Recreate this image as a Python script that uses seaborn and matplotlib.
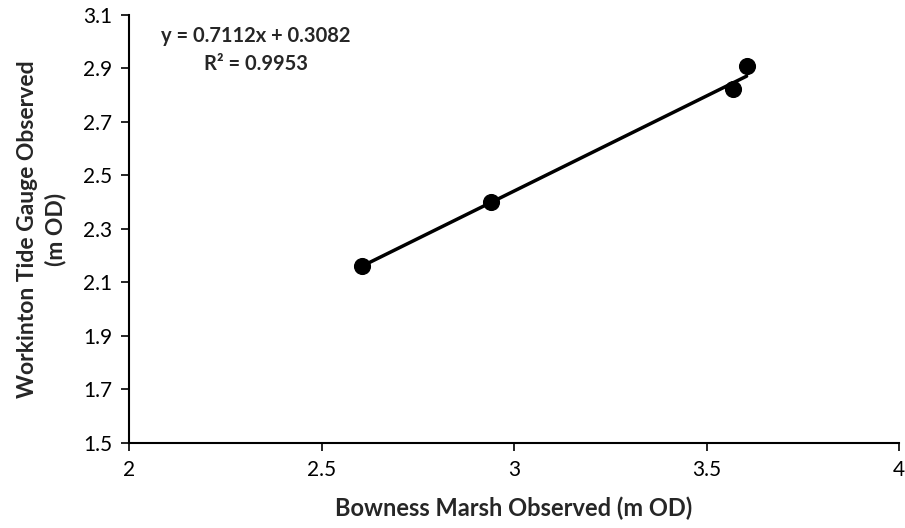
import matplotlib
matplotlib.use("Agg")
import matplotlib.pyplot as plt
import seaborn as sns
import numpy as np
import pandas as pd

# observed levels (m OD)
bowness = [2.604, 2.94, 3.569, 3.604]
workinton = [2.163, 2.402, 2.823, 2.908]
slope = 0.7112
intercept = 0.3082
r2 = 0.9953

x_ticks = [2, 2.5, 3, 3.5, 4]
y_ticks = [1.5, 1.7, 1.9, 2.1, 2.3, 2.5, 2.7, 2.9, 3.1]


def main():
    sns.set_style("ticks")
    plt.rcParams["font.family"] = ["Lato", "DejaVu Sans"]

    df = pd.DataFrame({"x": bowness, "y": workinton})
    xs = np.array([min(bowness), max(bowness)])
    fit = pd.DataFrame({"x": xs, "y": slope * xs + intercept})

    fig = plt.figure(figsize=(9.05, 5.28), dpi=100)
    ax = fig.add_axes([0.1425, 0.161, 0.851, 0.8106])

    sns.lineplot(data=fit, x="x", y="y", ax=ax, color="black", linewidth=2.5)
    sns.scatterplot(data=df, x="x", y="y", ax=ax, color="black", s=130,
                    edgecolor="black", zorder=3)

    ax.set_xlim(2, 4)
    ax.set_ylim(1.5, 3.1)
    ax.set_xticks(x_ticks)
    ax.set_xticklabels(["2", "2.5", "3", "3.5", "4"])
    ax.set_yticks(y_ticks)
    ax.set_yticklabels([f"{v:.1f}" for v in y_ticks])
    ax.tick_params(labelsize=15, length=6, width=1.2, colors="black", pad=6)
    sns.despine(ax=ax)
    for s in ["left", "bottom"]:
        ax.spines[s].set_linewidth(1.5)
        ax.spines[s].set_color("black")

    ax.set_xlabel("Bowness Marsh Observed (m OD)", fontsize=17,
                  fontweight="bold", labelpad=12)
    ax.set_ylabel("Workinton Tide Gauge Observed\n(m OD)", fontsize=16.5,
                  fontweight="bold", labelpad=12, linespacing=1.4)

    ax.text(2.33, 2.97, f"y = {slope}x + {intercept}\nR\u00b2 = {r2}",
            ha="center", va="center", fontsize=14.5, fontweight="bold",
            linespacing=1.5)

    fig.savefig("out.png", dpi=100)


if __name__ == "__main__":
    main()
